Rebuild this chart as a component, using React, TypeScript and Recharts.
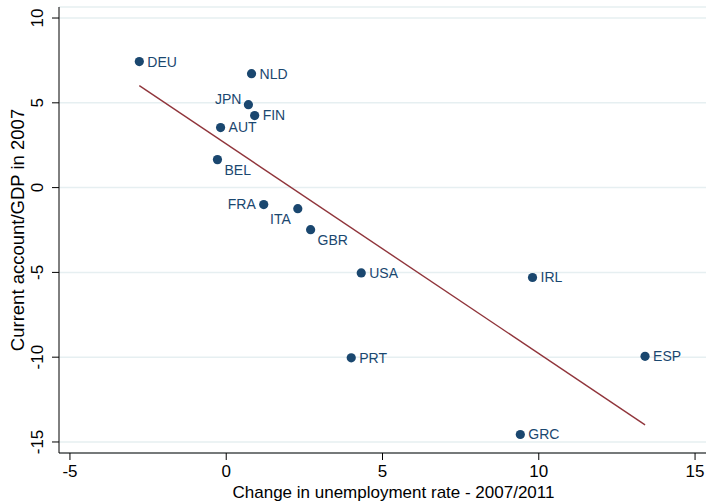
import React from "react";
import {
  ComposedChart,
  Scatter,
  XAxis,
  YAxis,
  CartesianGrid,
  Label,
} from "recharts";

// values
const countries = [
  "DEU", "NLD", "JPN", "FIN", "AUT", "BEL", "FRA",
  "ITA", "GBR", "USA", "IRL", "PRT", "ESP", "GRC",
];
const unempChange = [
  -2.78, 0.81, 0.71, 0.91, -0.18, -0.28, 1.2,
  2.29, 2.7, 4.32, 9.8, 4.0, 13.4, 9.41,
];
const currentAccount = [
  7.43, 6.72, 4.89, 4.25, 3.54, 1.65, -1.0,
  -1.24, -2.48, -5.03, -5.3, -10.04, -9.95, -14.56,
];
const fitX = [-2.78, 13.4];
const fitY = [6.01, -13.99];
const xTicks = [-5, 0, 5, 10, 15];
const yTicks = [-15, -10, -5, 0, 5, 10];

const points = countries.map((name, i) => ({
  name,
  x: unempChange[i],
  y: currentAccount[i],
}));
const fitLine = fitX.map((x, i) => ({ x, y: fitY[i] }));

const NAVY = "#1a476f";
const MAROON = "#90353b";
const FONT = "'Liberation Sans', Arial, sans-serif";

// where each marker label sits (clock position in the original)
const labelPlace: Record<string, { dx: number; dy: number; anchor: "start" | "end" }> = {
  JPN: { dx: -7, dy: -6, anchor: "end" },
  FRA: { dx: -8, dy: 0, anchor: "end" },
  ITA: { dx: -7, dy: 10, anchor: "end" },
  BEL: { dx: 7, dy: 10, anchor: "start" },
  GBR: { dx: 7, dy: 10, anchor: "start" },
};

const Marker = (props: any) => {
  const { cx, cy, payload } = props;
  const p = labelPlace[payload.name] || { dx: 8, dy: 0, anchor: "start" };
  return (
    <g>
      <circle cx={cx} cy={cy} r={4.6} fill={NAVY} />
      <text
        x={cx + p.dx}
        y={cy + p.dy}
        dy="0.35em"
        textAnchor={p.anchor}
        fill={NAVY}
        fontSize={14}
        fontFamily={FONT}
      >
        {payload.name}
      </text>
    </g>
  );
};

const YTick = (props: any) => {
  const { x, y, payload } = props;
  return (
    <text
      transform={`translate(${x - 7}, ${y}) rotate(-90)`}
      textAnchor="middle"
      fontSize={17}
      fill="#000"
      fontFamily={FONT}
    >
      {payload.value}
    </text>
  );
};

export default function App() {
  return (
    <div style={{ position: "absolute", left: 0, top: 0, background: "#fff" }}>
      <ComposedChart
        width={709}
        height={502}
        margin={{ top: 7, right: 3, bottom: 0, left: 0 }}
        style={{ fontFamily: FONT }}
      >
        <CartesianGrid
          vertical={false}
          stroke="#e6eff1"
          strokeWidth={1.5}
        />
        <XAxis
          type="number"
          dataKey="x"
          domain={[-5.35, 15.35]}
          ticks={xTicks}
          allowDataOverflow
          height={49}
          tickSize={7}
          tickMargin={5}
          stroke="#000"
          tick={{ fontSize: 17, fill: "#000", fontFamily: FONT }}
        >
          <Label
            content={(p: any) => {
              const vb = p.viewBox;
              return (
                <text
                  x={vb.x + vb.width / 2 + 11}
                  y={498}
                  textAnchor="middle"
                  fontSize={17}
                  fill="#000"
                  fontFamily={FONT}
                >
                  Change in unemployment rate - 2007/2011
                </text>
              );
            }}
          />
        </XAxis>
        <YAxis
          type="number"
          dataKey="y"
          domain={[-15.65, 10.65]}
          ticks={yTicks}
          allowDataOverflow
          width={59}
          tickSize={7}
          tickMargin={2}
          stroke="#000"
          tick={<YTick />}
        >
          <Label
            content={() => (
              <text
                transform="translate(24, 230) rotate(-90)"
                textAnchor="middle"
                fontSize={18.5}
                fill="#000"
                fontFamily={FONT}
              >
                Current account/GDP in 2007
              </text>
            )}
          />
        </YAxis>
        <Scatter
          data={fitLine}
          line={{ stroke: MAROON, strokeWidth: 1.4 }}
          shape={() => <g />}
          isAnimationActive={false}
        />
        <Scatter data={points} shape={<Marker />} isAnimationActive={false} />
      </ComposedChart>
    </div>
  );
}
